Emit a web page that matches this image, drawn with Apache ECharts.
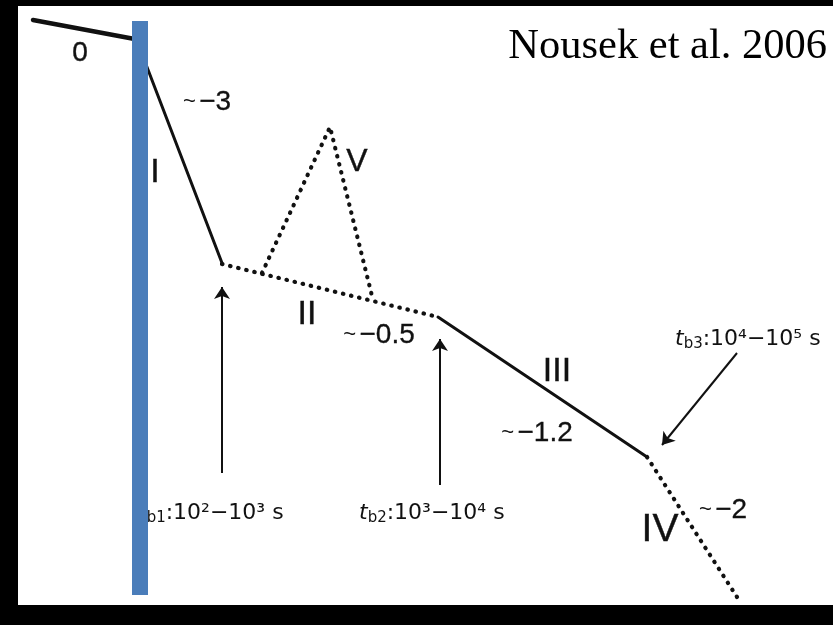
<!DOCTYPE html>
<html>
<head>
<meta charset="utf-8">
<script src="https://cdn.jsdelivr.net/npm/echarts@6/dist/echarts.min.js"></script>
<style>
  html, body { margin: 0; padding: 0; background: #000; }
  #main { width: 833px; height: 625px; }
</style>
</head>
<body>
<div id="main"></div>
<script>
// schematic X-ray afterglow light curve (Nousek et al. 2006), arbitrary log units
var seg0 = [[33, 605], [140, 585]]
var segI = [[142, 571], [222, 362]]
var segII = [[222, 361], [438, 308]]
var segIII = [[438, 308], [647, 168]]
var segIV = [[647, 168], [737, 28]]
var flareV = [[262, 352], [330, 498], [373, 325]]

var arrows = [
  [[222, 152], [222, 338]],
  [[440, 140], [440, 286]],
  [[737, 272], [662, 180]]
]

var phaseNames = ['0', 'I', 'II', 'III', 'IV', 'V']
var phasePos = [[80, 572], [155, 452], [307, 310], [557, 253], [660, 95], [357, 463]]
var phaseSize = [28, 34, 34, 34, 39, 32]
var slopeNames = ['−3', '−0.5', '−1.2', '−2']
var slopePos = [[207, 523], [379, 290], [537, 192], [723, 115]]
var breakSub = ['b1', 'b2', 'b3']
var breakRange = ['10²−10³', '10³−10⁴', '10⁴−10⁵']
var breakPos = [[138, 112], [359, 112], [675, 286]]
var barX = [132, 148]
var barY = [30, 604]

var ink = '#111'
var sans = 'Liberation Sans, Arial, Helvetica, sans-serif'
var wide = 'DejaVu Sans, Verdana, sans-serif'

function solid(name, data, w) {
  return {
    name: name, type: 'line', data: data, symbol: 'none', z: 3, silent: true,
    lineStyle: { color: ink, width: w, cap: 'round', join: 'round' }
  }
}
function dotted(name, data) {
  return {
    name: name, type: 'line', data: data, symbol: 'none', z: 3, silent: true,
    lineStyle: { color: ink, width: 4.2, type: [0.5, 7.8], cap: 'round' }
  }
}

var phaseData = phaseNames.map(function (n, i) {
  return { name: n, value: phasePos[i], label: { fontSize: phaseSize[i] } }
})
var slopeData = slopeNames.map(function (n, i) { return { name: n, value: slopePos[i] } })
var breakData = breakSub.map(function (n, i) { return { name: n, value: breakPos[i], range: breakRange[i] } })

var myChart = echarts.init(document.getElementById('main'))
var option = {
  backgroundColor: '#000',
  animation: false,
  title: {
    text: 'Nousek et al. 2006', right: 1, top: 20,
    textStyle: { fontFamily: 'Liberation Serif, Times New Roman, serif', fontSize: 42.5, fontWeight: 'normal', color: '#000' }
  },
  grid: { left: 18, right: 0, top: 6, bottom: 20, show: true, backgroundColor: '#fff', borderWidth: 0 },
  xAxis: { type: 'value', min: 18, max: 833, show: false },
  yAxis: { type: 'value', min: 20, max: 619, show: false },
  series: [
    solid('0', seg0, 4.5),
    solid('I', segI, 3),
    dotted('II', segII),
    solid('III', segIII, 3),
    dotted('IV', segIV),
    dotted('V', flareV),
    {
      type: 'lines', coordinateSystem: 'cartesian2d', z: 3, silent: true,
      symbol: ['none', 'arrow'], symbolSize: [8, 12],
      lineStyle: { color: ink, width: 2, opacity: 1, curveness: 0 },
      data: arrows.map(function (a) { return { coords: a } })
    },
    {
      type: 'scatter', symbolSize: 0, z: 4, silent: true, data: phaseData,
      itemStyle: { opacity: 1 },
      label: {
        show: true, position: 'inside', formatter: '{b}', color: ink, fontFamily: sans,
        textBorderColor: ink, textBorderWidth: 0.4
      }
    },
    {
      type: 'scatter', symbolSize: 0, z: 4, silent: true, data: slopeData,
      itemStyle: { opacity: 1 },
      label: {
        show: true, position: 'inside', formatter: '{s|~} {n|{b}}',
        rich: {
          s: { fontFamily: sans, fontSize: 22, color: ink },
          n: { fontFamily: sans, fontSize: 28, color: ink, textBorderColor: ink, textBorderWidth: 0.3 }
        }
      }
    },
    {
      type: 'scatter', symbolSize: 0, z: 4, silent: true, data: breakData,
      itemStyle: { opacity: 1 },
      label: {
        show: true, position: 'right', distance: 0,
        formatter: function (p) { return '{t|t}{sub|' + p.name + '}{n|:' + p.data.range + ' s}' },
        rich: {
          t: { fontFamily: wide, fontStyle: 'italic', fontSize: 22, color: ink, lineHeight: 26 },
          sub: { fontFamily: wide, fontSize: 15, color: ink, verticalAlign: 'bottom', lineHeight: 26 },
          n: { fontFamily: wide, fontSize: 22, color: ink, lineHeight: 26 }
        }
      }
    },
    {
      type: 'line', data: [], z: 10, silent: true,
      markArea: {
        silent: true, z: 10,
        itemStyle: { color: '#4a7dba', opacity: 1 },
        data: [[{ coord: [barX[0], barY[0]] }, { coord: [barX[1], barY[1]] }]]
      }
    }
  ]
}
myChart.setOption(option)
</script>
</body>
</html>
